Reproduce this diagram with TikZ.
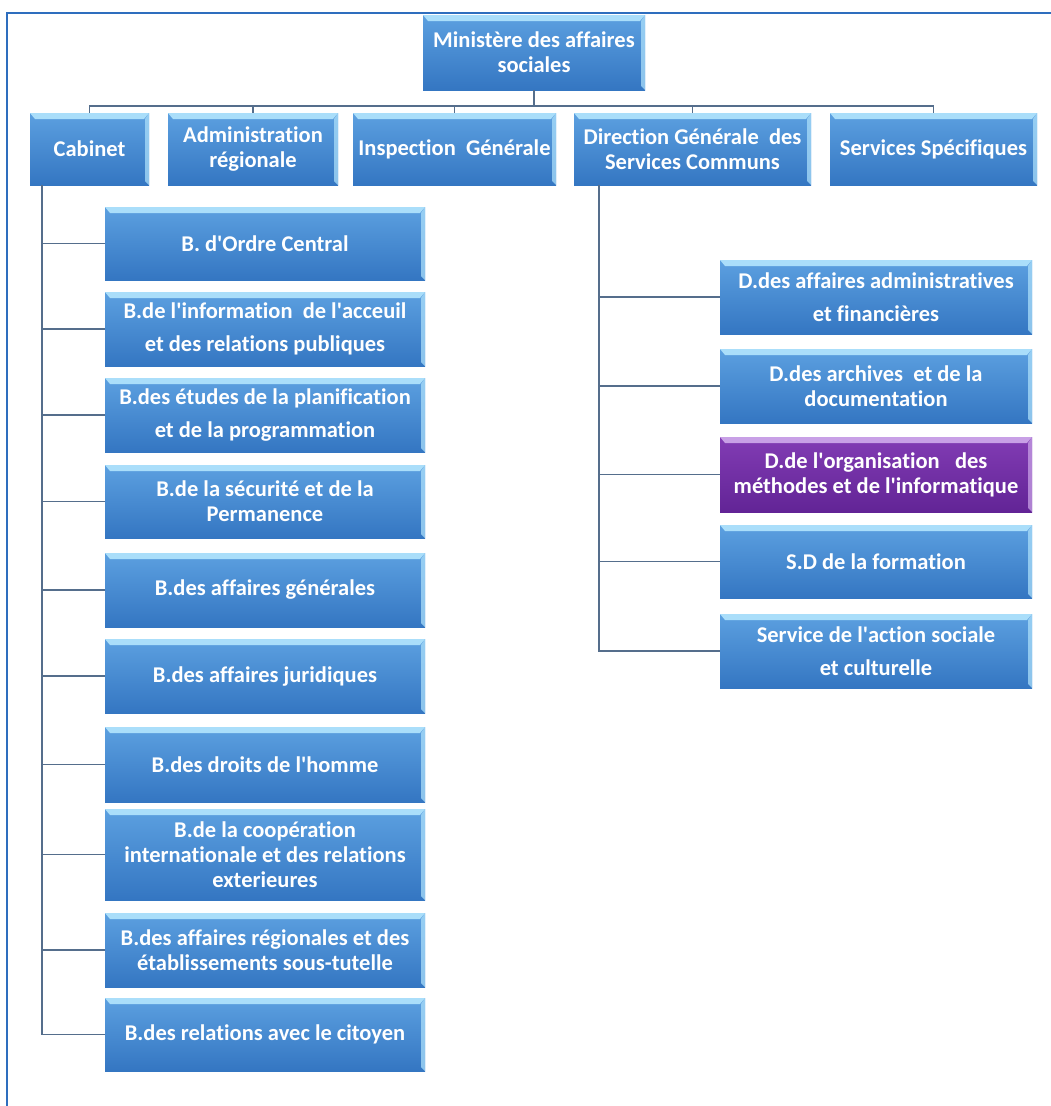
\documentclass[tikz,border=0pt]{standalone}
\usepackage{fontspec}
\setmainfont[Ligatures={TeX,NoCommon}]{Carlito}
\usepackage{tikz}

\definecolor{boxtop}{RGB}{92,160,224}
\definecolor{boxbot}{RGB}{52,118,194}
\definecolor{boxbevel}{RGB}{170,222,250}
\definecolor{purtop}{RGB}{130,60,180}
\definecolor{purbot}{RGB}{98,36,150}
\definecolor{purbevel}{RGB}{200,160,230}
\definecolor{linkcol}{RGB}{85,110,140}
\definecolor{framecol}{RGB}{46,110,190}

\newcommand{\ap}{\textquotesingle}

\tikzset{
    bevelc/.store in=\unitbevel, bevelc=boxbevel,
    unit/.style={rectangle, inner sep=1pt, align=center, text=white,
        font=\bfseries\fontsize{22.5}{25}\selectfont,
        top color=boxtop, bottom color=boxbot,
        path picture={
            \fill[\unitbevel] (path picture bounding box.north west)
                -- (path picture bounding box.north east)
                -- ([shift={(-5pt,-6pt)}]path picture bounding box.north east)
                -- ([shift={(5pt,-6pt)}]path picture bounding box.north west) -- cycle;
            \fill[\unitbevel, opacity=.75] (path picture bounding box.north east)
                -- (path picture bounding box.south east)
                -- ([shift={(-4pt,4pt)}]path picture bounding box.south east)
                -- ([shift={(-4pt,-6pt)}]path picture bounding box.north east) -- cycle;
        }},
    head/.style={unit, minimum height=72pt},
    cabsub/.style={unit, minimum width=320pt},
    dgsub/.style={unit, minimum width=312pt},
    purplebox/.style={top color=purtop, bottom color=purbot, bevelc=purbevel},
    link/.style={draw=linkcol, line width=1.6pt}
}

\begin{document}
\begin{tikzpicture}[x=1pt,y=-1pt]
    \useasboundingbox (0,0) rectangle (1051,1106);
    \draw[framecol, line width=2pt] (7,1106) -- (7,13) -- (1051,13);

    % top of the tree
    \node[unit, minimum width=222pt, minimum height=75pt] (min) at (534,52.5)
        {Ministère des affaires\\sociales};

    \node[head, minimum width=119pt] (cab) at (89.5,149) {Cabinet};
    \node[head, minimum width=170pt] (adm) at (253,149) {Administration\\régionale};
    \node[head, minimum width=203pt] (ins) at (454.5,149) {Inspection\ \ Générale};
    \node[head, minimum width=237pt] (dgs) at (692.5,149) {Direction Générale\ \ des\\Services Communs};
    \node[head, minimum width=207pt] (ssp) at (933.5,149) {Services Spécifiques};

    \coordinate (bus) at (534,106);
    \draw[link] (min.south) -- (bus);
    \foreach \n in {cab,adm,ins,dgs,ssp}
        \draw[link] (\n.north) |- (bus);

    % bureaux du cabinet
    \node[cabsub, minimum height=73pt] (b1) at (265,243.5) {B. d\ap Ordre Central};
    \node[cabsub, minimum height=74pt] (b2) at (265,329) {B.de l\ap information\ \ de l\ap acceuil\\[8pt]et des relations publiques};
    \node[cabsub, minimum height=74pt] (b3) at (265,415) {B.des études de la planification\\[8pt]et de la programmation};
    \node[cabsub, minimum height=73pt] (b4) at (265,501.5) {B.de la sécurité et de la\\Permanence};
    \node[cabsub, minimum height=74pt] (b5) at (265,590) {B.des affaires générales};
    \node[cabsub, minimum height=74pt] (b6) at (265,676) {B.des affaires juridiques};
    \node[cabsub, minimum height=75pt] (b7) at (265,764.5) {B.des droits de l\ap homme};
    \node[cabsub, minimum height=91pt] (b8) at (265,854.5) {B.de la coopération\\internationale et des relations\\exterieures};
    \node[cabsub, minimum height=74pt] (b9) at (265,950) {B.des affaires régionales et des\\établissements sous-tutelle};
    \node[cabsub, minimum height=73pt] (b10) at (265,1034.5) {B.des relations avec le citoyen};

    \coordinate (cabt) at (42,185);
    \foreach \n in {b1,b2,b3,b4,b5,b6,b7,b8,b9,b10}
        \draw[link] (cabt) |- (\n.west);

    % directions des services communs
    \node[dgsub, minimum height=74pt] (d1) at (876,297) {D.des affaires administratives\\[8pt]et financières};
    \node[dgsub, minimum height=74pt] (d2) at (876,386) {D.des archives\ \ et de la\\documentation};
    \node[dgsub, purplebox, minimum height=75pt] (d3) at (876,474.5) {D.de l\ap organisation\ \ \ des\\méthodes et de l\ap informatique};
    \node[dgsub, minimum height=73pt] (d4) at (876,561.5) {S.D de la formation};
    \node[dgsub, minimum height=74pt] (d5) at (876,651) {Service de l\ap action sociale\\[8pt]et culturelle};

    \coordinate (dgst) at (599,185);
    \foreach \n in {d1,d2,d3,d4,d5}
        \draw[link] (dgst) |- (\n.west);
\end{tikzpicture}
\end{document}
